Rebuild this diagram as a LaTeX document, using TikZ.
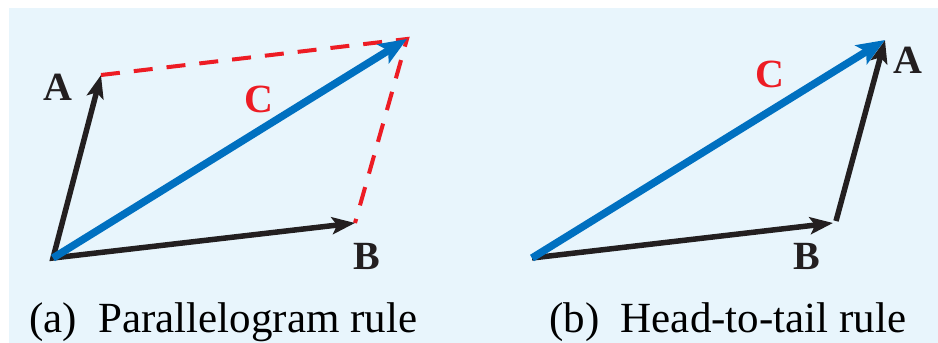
\documentclass[tikz,border=0pt]{standalone}
\usepackage{fontspec}
\setmainfont{Liberation Serif}
\usetikzlibrary{arrows.meta}
\definecolor{bgblue}{RGB}{232,245,252}
\definecolor{vblue}{RGB}{0,112,192}
\definecolor{vred}{RGB}{237,28,36}
\definecolor{vblack}{RGB}{35,31,32}
\begin{document}
\begin{tikzpicture}[x=1pt,y=-1pt,
  blackvec/.style={draw=vblack,line width=5.5pt,line join=miter,
    -{Stealth[length=23pt,width=17pt,inset=5pt]}},
  bluevec/.style={draw=vblue,line width=7.5pt,
    -{Stealth[length=28pt,width=22pt,inset=6pt]}},
  dashline/.style={draw=vred,line width=4pt,dash pattern=on 19pt off 14pt},
  lab/.style={font=\fontsize{40}{48}\selectfont\bfseries,inner sep=0pt},
  captext/.style={font=\fontsize{43}{50}\selectfont,inner sep=0pt,anchor=base west}]
\useasboundingbox (0,0) rectangle (938,343);
\fill[white] (0,0) rectangle (938,343);
\fill[bgblue] (9,8) rectangle (938,343);
% (a) parallelogram
\coordinate (Oa) at (53,258);
\coordinate (Aa) at (101,75);
\coordinate (Ba) at (355,223);
\coordinate (Ca) at (407,39);
\draw[dashline] (Aa) -- (Ca) -- (Ba);
\draw[blackvec,{Stealth[length=23pt,width=17pt,inset=5pt]}-{Stealth[length=23pt,width=17pt,inset=5pt]}] (Aa) -- (Oa) -- (Ba);
\draw[bluevec] (Oa) -- (Ca);
\node[lab,text=vblack] (labAa) at (58,87) {A};
\node[lab,text=vblack] (labBa) at (367,256) {B};
\node[lab,text=vred] (labCa) at (259,99) {C};
\node[captext] (capa) at (29,332) {(a)\hspace{0.5em}Parallelogram rule};
% (b) head-to-tail
\coordinate (Ob) at (532,258);
\coordinate (Bb) at (833,223);
\coordinate (Ab0) at (836,221);
\coordinate (Ab) at (885,40);
\draw[blackvec] (Ob) -- (Bb);
\draw[blackvec] (Ab0) -- (Ab);
\draw[bluevec] (Ob) -- (Ab);
\node[lab,text=vblack] (labAb) at (908,60) {A};
\node[lab,text=vblack] (labBb) at (807,256) {B};
\node[lab,text=vred] (labCb) at (770,74) {C};
\node[captext] (capb) at (549,332) {(b)\hspace{0.5em}Head-to-tail rule};
\end{tikzpicture}
\end{document}
